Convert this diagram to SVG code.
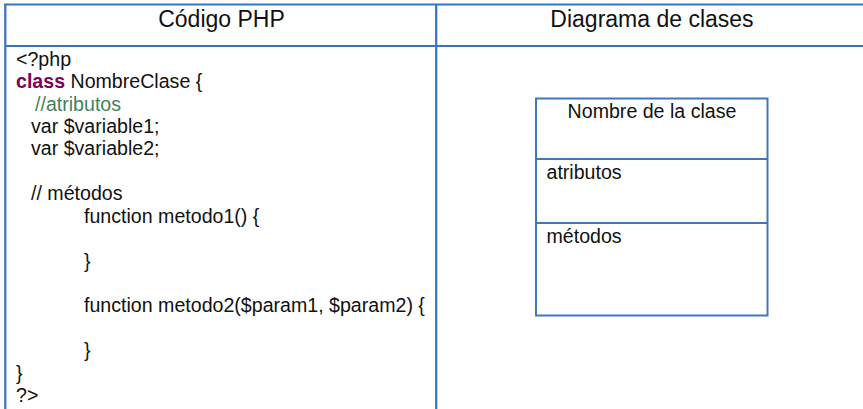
<svg xmlns="http://www.w3.org/2000/svg" width="863" height="409" viewBox="0 0 863 409">
  <style>
    .grid { stroke: #3574c1; stroke-width: 2.2; fill: none; }
    .box { stroke: #4176bd; stroke-width: 2; fill: #ffffff; }
    text { font-family: "Liberation Sans", Arial, sans-serif; fill: #111111; }
    .head { font-size: 23px; text-anchor: middle; }
    .code { font-size: 19.6px; }
    .kw { font-weight: bold; fill: #7f0055; }
    .cm { fill: #3f7f5f; }
    .lbl { font-size: 19.6px; }
  </style>
  <rect width="863" height="409" fill="#ffffff"/>

  <!-- table frame -->
  <g id="table">
    <line class="grid" x1="4" y1="4.5" x2="863" y2="4.5"/>
    <line class="grid" x1="5.3" y1="4" x2="5.3" y2="409"/>
    <line class="grid" x1="436.2" y1="4" x2="436.2" y2="409"/>
    <line class="grid" x1="5" y1="46" x2="863" y2="46"/>
    <text class="head" x="221.5" y="27.3">Código PHP</text>
    <text class="head" x="652" y="26.8">Diagrama de clases</text>
  </g>

  <!-- PHP source listing -->
  <g id="code" class="code">
    <text x="16" y="65.5">&lt;?php</text>
    <text x="16" y="88"><tspan class="kw">class</tspan> NombreClase {</text>
    <text x="35" y="110.5" class="cm">//atributos</text>
    <text x="31" y="133">var $variable1;</text>
    <text x="31" y="155.3">var $variable2;</text>
    <text x="31" y="200">// métodos</text>
    <text x="84" y="222.5">function metodo1() {</text>
    <text x="84" y="267.5">}</text>
    <text x="84" y="312.3">function metodo2($param1, $param2) {</text>
    <text x="84" y="357">}</text>
    <text x="16" y="379.5">}</text>
    <text x="16" y="402">?&gt;</text>
  </g>

  <!-- UML class box -->
  <g id="class-box">
    <rect class="box" x="536" y="98.5" width="231.5" height="217"/>
    <line class="box" x1="536" y1="159" x2="767.5" y2="159"/>
    <line class="box" x1="536" y1="223" x2="767.5" y2="223"/>
    <text class="lbl" x="652" y="118" text-anchor="middle">Nombre de la clase</text>
    <text class="lbl" x="546.5" y="178.5">atributos</text>
    <text class="lbl" x="546.5" y="242.5">métodos</text>
  </g>
</svg>
